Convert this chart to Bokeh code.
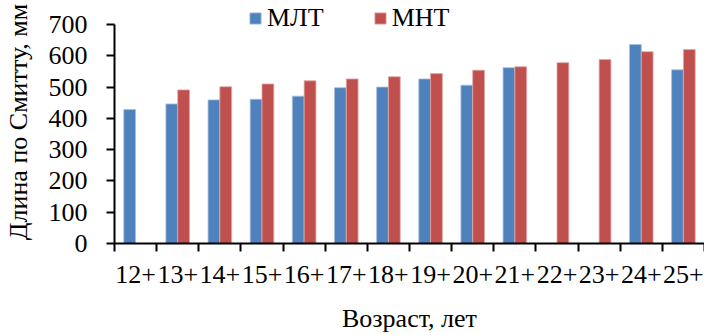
from bokeh.plotting import figure
from bokeh.models import Range1d, FixedTicker, Legend, LegendItem, ColumnDataSource
from bokeh.embed import file_html
from bokeh.resources import INLINE

categories = ["12+", "13+", "14+", "15+", "16+", "17+", "18+", "19+", "20+", "21+", "22+", "23+", "24+", "25+"]
mlt = [428, 446, 459, 461, 471, 498, 500, 526, 506, 562, None, None, 636, 555]
mnt = [None, 491, 501, 510, 520, 526, 533, 543, 554, 565, 578, 588, 613, 620]
y_ticks = [0, 100, 200, 300, 400, 500, 600, 700]

BLUE = "#4F81BD"
RED = "#C0504D"
FONT = "Liberation Serif"
FS = "26px"
BAR_W = 0.28

def series_source(vals, offset):
    xs, ys = [], []
    for i, v in enumerate(vals):
        if v is not None:
            xs.append(i + 0.5 + offset)
            ys.append(v)
    return ColumnDataSource(dict(x=xs, top=ys))

# y range extends above 700 so the legend (drawn inside the frame) sits above the axis top
p = figure(width=704, height=335, output_backend="svg", toolbar_location=None,
           x_range=Range1d(0, len(categories)), y_range=Range1d(0, 776.7),
           min_border_left=109, min_border_right=0, min_border_top=0, min_border_bottom=92)
p.outline_line_color = None
p.grid.visible = False

r1 = p.vbar(x="x", top="top", width=BAR_W, bottom=0, source=series_source(mlt, -BAR_W / 2),
            fill_color=BLUE, line_color="#A7C0DE", line_width=0.8)
r2 = p.vbar(x="x", top="top", width=BAR_W, bottom=0, source=series_source(mnt, BAR_W / 2),
            fill_color=RED, line_color="#E0A8A6", line_width=0.8)

centers = [i + 0.5 for i in range(len(categories))]
bounds = list(range(len(categories) + 1))
xa = p.xaxis[0]
xa.ticker = FixedTicker(ticks=centers, minor_ticks=bounds)
xa.major_label_overrides = {c: lab for c, lab in zip(centers, categories)}
xa.major_tick_out = 0
xa.major_tick_in = 0
xa.minor_tick_out = 8
xa.minor_tick_in = 0
xa.minor_tick_line_width = 2
xa.axis_line_width = 2
xa.axis_line_color = "black"
xa.minor_tick_line_color = "black"
xa.major_label_text_font = FONT
xa.major_label_text_font_size = FS
xa.major_label_text_color = "black"
xa.major_label_standoff = 14
xa.axis_label = "Возраст, лет"
xa.axis_label_text_font = FONT
xa.axis_label_text_font_size = FS
xa.axis_label_text_font_style = "normal"
xa.axis_label_text_color = "black"
xa.axis_label_standoff = 18

ya = p.yaxis[0]
ya.ticker = FixedTicker(ticks=y_ticks, minor_ticks=[])
ya.bounds = (0, 700)
ya.major_tick_out = 8
ya.major_tick_in = 0
ya.major_tick_line_width = 2
ya.axis_line_width = 2
ya.axis_line_color = "black"
ya.major_tick_line_color = "black"
ya.major_label_text_font = FONT
ya.major_label_text_font_size = FS
ya.major_label_text_color = "black"
ya.major_label_standoff = 19
ya.axis_label = "Длина по Смитту, мм"
ya.axis_label_text_font = FONT
ya.axis_label_text_font_size = FS
ya.axis_label_text_font_style = "normal"
ya.axis_label_text_color = "black"
ya.axis_label_standoff = 13

legend = Legend(items=[LegendItem(label="МЛТ", renderers=[r1]), LegendItem(label="МНТ", renderers=[r2])],
                orientation="horizontal", location=(134, 210),
                label_text_font=FONT, label_text_font_size=FS, label_text_color="black",
                glyph_width=14, glyph_height=14, label_standoff=5, spacing=49,
                padding=0, margin=0, border_line_color=None, background_fill_alpha=0)
p.add_layout(legend, "center")

open("out.html", "w").write(file_html(p, INLINE))
